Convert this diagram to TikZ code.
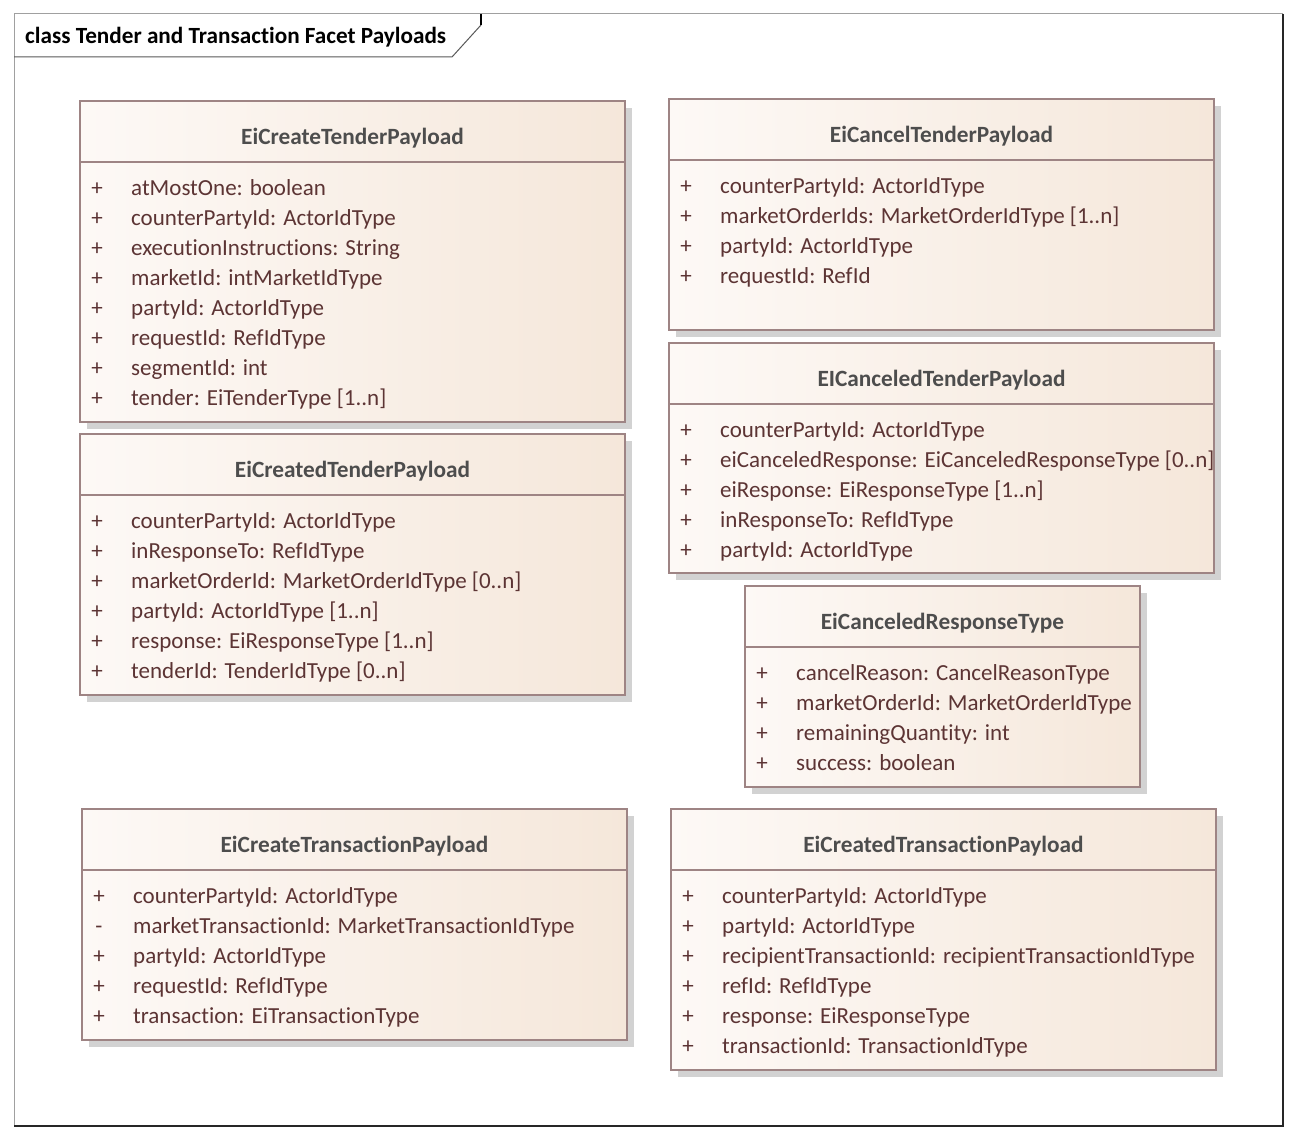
\documentclass[tikz,border=0pt]{standalone}
\usepackage{fontspec}
\setmainfont{Carlito}[Ligatures={NoCommon}]
\usetikzlibrary{fit}
\definecolor{fillL}{HTML}{FDF9F6}
\definecolor{fillR}{HTML}{F5E7DA}
\definecolor{edgec}{HTML}{9E8484}
\definecolor{shadowc}{HTML}{D2D2D2}
\definecolor{attrc}{HTML}{5C3434}
\definecolor{titlec}{HTML}{4D4D4D}
\definecolor{framec}{HTML}{A0A0A0}
\tikzset{
  classbox/.style={draw=edgec, line width=2pt, left color=fillL, right color=fillR, inner sep=0pt},
  divline/.style={draw=edgec, line width=2pt},
  titletext/.style={font=\fontsize{23.3}{27}\selectfont\bfseries, text=titlec, anchor=base, inner sep=0pt},
  attrtext/.style={font=\fontsize{23}{27}\selectfont, text=attrc, anchor=base west, inner sep=0pt},
  signtext/.style={font=\fontsize{23}{27}\selectfont, text=attrc, anchor=base, inner sep=0pt},
}
\newcommand{\umlbox}[7]{%
  \fill[shadowc] (#2+7,#3+7) rectangle (#4+7,#5+7);
  \node[classbox, fit={(#2,#3) (#4,#5)}] (#1) {};
  \draw[divline] (#2,#3+61) -- (#4,#3+61);
  \node[titletext] (#1-title) at ({(#2+#4)/2},#3+61-25.5+8) {#6};
  \foreach \s/\t [count=\i from 0] in {#7} {
    \node[signtext] (#1-s\i) at ({#2+17},{#3+61+25+30*\i+8}) {\s};
    \node[attrtext] (#1-a\i) at ({#2+51},{#3+61+25+30*\i+8}) {\t};
  }%
}
\begin{document}
\begin{tikzpicture}[x=1pt,y=-1pt]
\useasboundingbox (0,0) rectangle (1297,1140);
\fill[white] (0,0) rectangle (1297,1140);
% frame
\draw[framec, line width=1pt] (14,1126) -- (14,14) -- (1283,14);
\draw[black!85, line width=1.3pt] (1283,14) -- (1283,1126) -- (14,1126);
\draw[black!65, line width=1pt] (14,57) -- (452,57) -- (481,25);
\draw[black, line width=1.3pt] (481,25) -- (481,14);
\node[font=\fontsize{23.2}{27}\selectfont\bfseries, anchor=base west, inner sep=0pt] (frametitle) at (25,44) {class Tender and Transaction Facet Payloads};
% boxes
\umlbox{b1}{80}{101}{625}{422}{EiCreateTenderPayload}{+/atMostOne: boolean, +/counterPartyId: ActorIdType, +/executionInstructions: String, +/marketId: intMarketIdType, +/partyId: ActorIdType, +/requestId: RefIdType, +/segmentId: int, +/tender: EiTenderType [1..n]}
\umlbox{b2}{80}{434}{625}{695}{EiCreatedTenderPayload}{+/counterPartyId: ActorIdType, +/inResponseTo: RefIdType, +/marketOrderId: MarketOrderIdType [0..n], +/partyId: ActorIdType [1..n], +/response: EiResponseType [1..n], +/tenderId: TenderIdType [0..n]}
\umlbox{b3}{669}{99}{1214}{330}{EiCancelTenderPayload}{+/counterPartyId: ActorIdType, +/marketOrderIds: MarketOrderIdType [1..n], +/partyId: ActorIdType, +/requestId: RefId}
\umlbox{b4}{669}{343}{1214}{573}{EICanceledTenderPayload}{+/counterPartyId: ActorIdType, +/eiCanceledResponse: EiCanceledResponseType [0..n], +/eiResponse: EiResponseType [1..n], +/inResponseTo: RefIdType, +/partyId: ActorIdType}
\umlbox{b5}{745}{586}{1140}{787}{EiCanceledResponseType}{+/cancelReason: CancelReasonType, +/marketOrderId: MarketOrderIdType, +/remainingQuantity: int, +/success: boolean}
\umlbox{b6}{82}{809}{627}{1040}{EiCreateTransactionPayload}{+/counterPartyId: ActorIdType, -/marketTransactionId: MarketTransactionIdType, +/partyId: ActorIdType, +/requestId: RefIdType, +/transaction: EiTransactionType}
\umlbox{b7}{671}{809}{1216}{1070}{EiCreatedTransactionPayload}{+/counterPartyId: ActorIdType, +/partyId: ActorIdType, +/recipientTransactionId: recipientTransactionIdType, +/refId: RefIdType, +/response: EiResponseType, +/transactionId: TransactionIdType}
\end{tikzpicture}
\end{document}
